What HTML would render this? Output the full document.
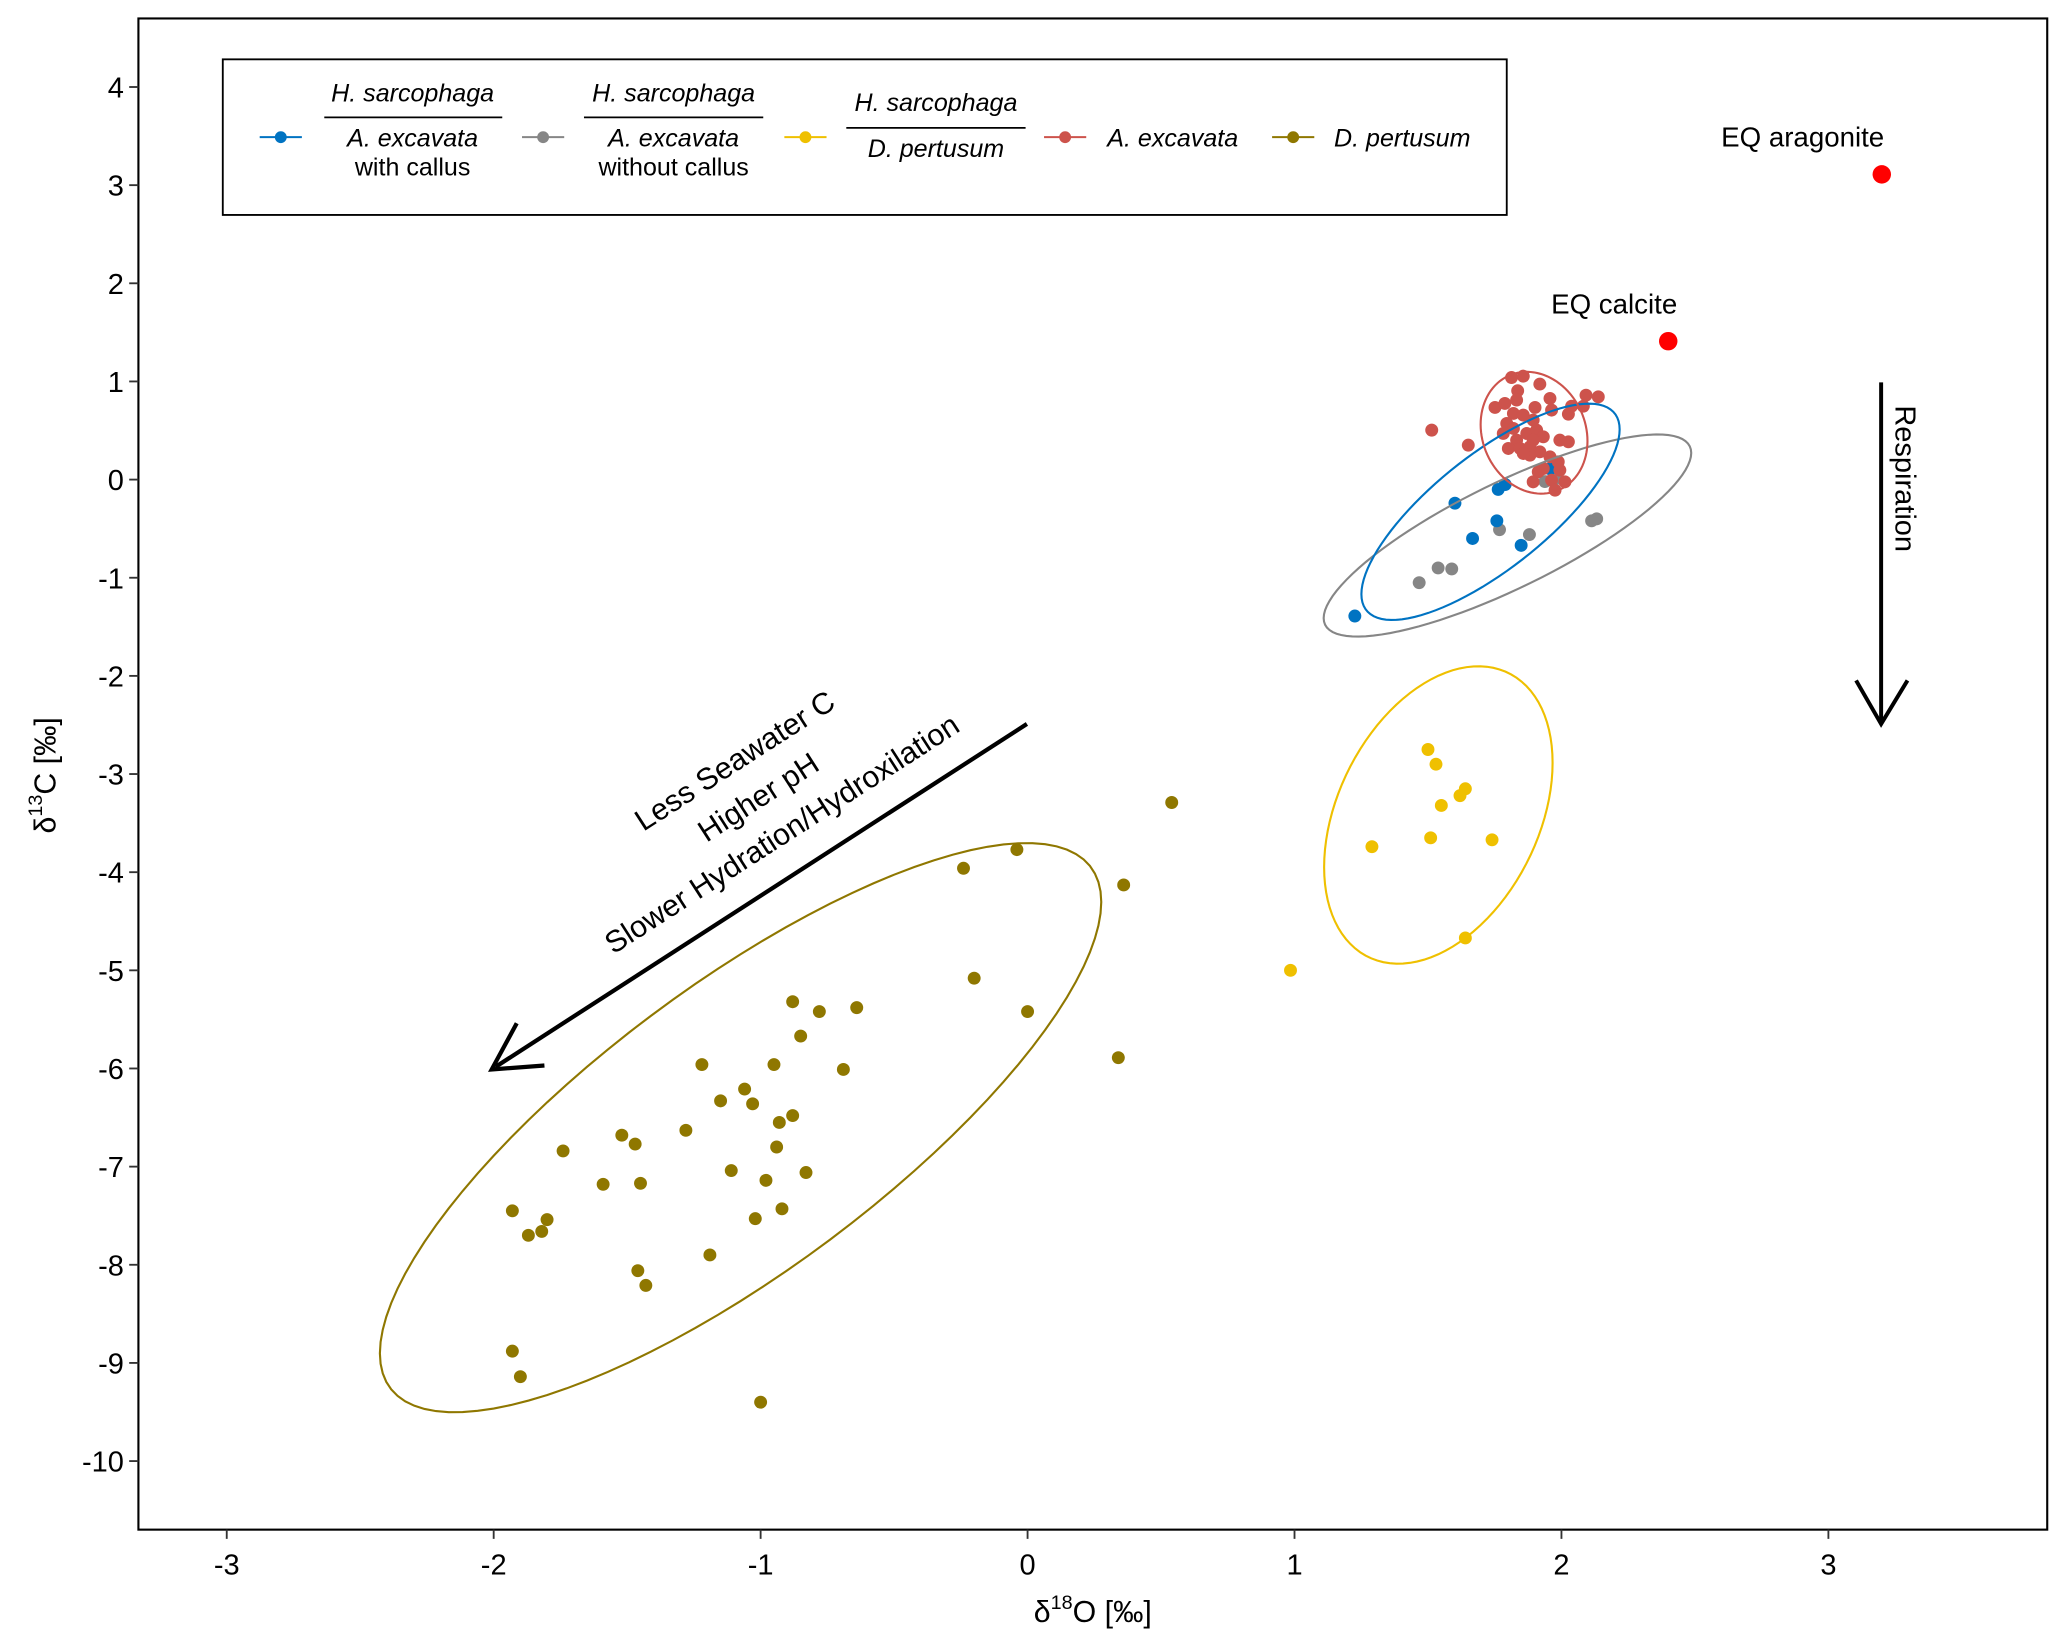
<!DOCTYPE html>
<html><head><meta charset="utf-8"><style>
html,body{margin:0;padding:0;background:#fff;}
svg{display:block;}
text{font-family:"Liberation Sans",Arial,sans-serif;fill:#000;}
</style></head><body>
<svg id="chart" xmlns="http://www.w3.org/2000/svg" width="2067" height="1647" viewBox="0 0 1568 1249" preserveAspectRatio="none">
<rect x="0" y="0" width="1568" height="1249" fill="#fff"/>
<g id="marks"></g>
<rect x="105" y="14" width="1448" height="1146" fill="none" stroke="#000" stroke-width="1.6"/>
<g id="axes"></g>
<text x="829" y="1230" font-size="23" text-anchor="middle">δ<tspan font-size="15" dy="-10">18</tspan><tspan dy="10">O [‰]</tspan></text>
<text transform="translate(42,588) rotate(-90)" font-size="23" text-anchor="middle">δ<tspan font-size="15" dy="-10">13</tspan><tspan dy="10">C [‰]</tspan></text>

<g>
<rect x="169" y="45" width="974" height="118" fill="#fff" stroke="#000" stroke-width="1.4"/>
<g>
<line x1="197" y1="104" x2="229" y2="104" stroke="#0073C2" stroke-width="1.5"/><circle cx="213" cy="104" r="4.5" fill="#0073C2"/>
<text x="313" y="77" font-size="19" font-style="italic" text-anchor="middle">H. sarcophaga</text>
<line x1="246" y1="89" x2="381" y2="89" stroke="#000" stroke-width="1.3"/>
<text x="313" y="111" font-size="19" font-style="italic" text-anchor="middle">A. excavata</text>
<text x="313" y="133" font-size="19" text-anchor="middle">with callus</text>
</g>
<g>
<line x1="396" y1="104" x2="428" y2="104" stroke="#868686" stroke-width="1.5"/><circle cx="412" cy="104" r="4.5" fill="#868686"/>
<text x="511" y="77" font-size="19" font-style="italic" text-anchor="middle">H. sarcophaga</text>
<line x1="443" y1="89" x2="579" y2="89" stroke="#000" stroke-width="1.3"/>
<text x="511" y="111" font-size="19" font-style="italic" text-anchor="middle">A. excavata</text>
<text x="511" y="133" font-size="19" text-anchor="middle">without callus</text>
</g>
<g>
<line x1="595" y1="104" x2="627" y2="104" stroke="#EFC000" stroke-width="1.5"/><circle cx="611" cy="104" r="4.5" fill="#EFC000"/>
<text x="710" y="84" font-size="19" font-style="italic" text-anchor="middle">H. sarcophaga</text>
<line x1="642" y1="97" x2="778" y2="97" stroke="#000" stroke-width="1.3"/>
<text x="710" y="119" font-size="19" font-style="italic" text-anchor="middle">D. pertusum</text>
</g>
<g>
<line x1="792" y1="104" x2="824" y2="104" stroke="#CD534C" stroke-width="1.5"/><circle cx="808" cy="104" r="4.5" fill="#CD534C"/>
<text x="840" y="111" font-size="19" font-style="italic">A. excavata</text>
</g>
<g>
<line x1="965" y1="104" x2="997" y2="104" stroke="#8F7700" stroke-width="1.5"/><circle cx="981" cy="104" r="4.5" fill="#8F7700"/>
<text x="1012" y="111" font-size="19" font-style="italic">D. pertusum</text>
</g>
</g>

<g>
<line x1="1427" y1="290" x2="1427" y2="549" stroke="#000" stroke-width="3"/>
<polyline points="1408,516 1427,549 1447,516" fill="none" stroke="#000" stroke-width="3"/>
<text transform="translate(1438,363) rotate(90)" font-size="22" text-anchor="middle">Respiration</text>
</g>
<g>
<line x1="779" y1="549" x2="376" y2="809" stroke="#000" stroke-width="3.2"/>
<polyline points="392,776 373,811 413,808" fill="none" stroke="#000" stroke-width="3.2"/>
<g transform="translate(580,612) rotate(-32.8)">
<text x="0" y="-34" font-size="23" text-anchor="middle">Less Seawater C</text>
<text x="0" y="-1" font-size="23" text-anchor="middle">Higher pH</text>
<text x="0" y="32" font-size="23" text-anchor="middle">Slower Hydration/Hydroxilation</text>
</g>
</g>
</svg>
<script>
// ---- data ----
const xTicks = [-3,-2,-1,0,1,2,3];
const yTicks = [4,3,2,1,0,-1,-2,-3,-4,-5,-6,-7,-8,-9,-10];
const dpX = [0.54,-0.24,-0.04,0.36,-0.20,0.00,0.34,-0.64,-0.78,-0.88,-0.85,-0.69,-0.95,-1.22,-1.06,-1.15,-1.03,-0.88,-0.93,-1.28,-1.52,-1.47,-1.74,-1.59,-1.45,-0.94,-0.83,-1.11,-0.98,-0.92,-1.02,-1.19,-1.93,-1.80,-1.82,-1.87,-1.46,-1.43,-1.93,-1.90,-1.00];
const dpY = [-3.29,-3.96,-3.77,-4.13,-5.08,-5.42,-5.89,-5.38,-5.42,-5.32,-5.67,-6.01,-5.96,-5.96,-6.21,-6.33,-6.36,-6.48,-6.55,-6.63,-6.68,-6.77,-6.84,-7.18,-7.17,-6.80,-7.06,-7.04,-7.14,-7.43,-7.53,-7.90,-7.45,-7.54,-7.66,-7.70,-8.06,-8.21,-8.88,-9.14,-9.40];
const hdX = [1.50,1.53,1.64,1.62,1.55,1.51,1.29,1.74,1.64,0.985];
const hdY = [-2.75,-2.90,-3.15,-3.22,-3.32,-3.65,-3.74,-3.67,-4.67,-5.00];
const wcX = [1.226,1.601,1.667,1.758,1.763,1.789,1.849,1.957];
const wcY = [-1.39,-0.24,-0.60,-0.42,-0.10,-0.05,-0.67,0.11];
const woX = [1.467,1.538,1.589,1.768,1.880,2.113,2.132,1.938,1.98];
const woY = [-1.05,-0.90,-0.91,-0.51,-0.56,-0.42,-0.40,-0.02,0.01];
const aeX = [1.514,1.651,1.813,1.857,1.919,1.836,1.957,1.751,1.788,1.832,1.901,1.963,2.038,2.092,2.138,2.082,2.026,1.820,1.857,1.894,1.795,1.820,1.870,1.907,1.932,1.832,1.801,1.845,1.882,1.919,1.994,2.026,1.882,1.957,1.988,1.994,1.913,1.894,1.963,2.013,1.976,1.932,1.857,1.782,1.894];
const aeY = [0.504,0.351,1.040,1.054,0.973,0.905,0.827,0.735,0.776,0.810,0.735,0.708,0.748,0.860,0.843,0.748,0.667,0.674,0.657,0.606,0.572,0.521,0.470,0.504,0.436,0.402,0.317,0.317,0.334,0.283,0.402,0.385,0.249,0.232,0.181,0.096,0.079,-0.023,-0.006,-0.023,-0.108,0.113,0.266,0.470,0.402];
const eqLabels = ["EQ calcite","EQ aragonite"];
const eqX = [2.40,3.20];
const eqY = [1.41,3.11];

// ---- scales ----
const X = v => 779.5 + v*202.5;
const Y = v => 363.7 - v*74.43;
const NS = "http://www.w3.org/2000/svg";
const marks = document.getElementById('marks');
const axes = document.getElementById('axes');
function mk(tag, attrs, parent){const e=document.createElementNS(NS,tag);for(const k in attrs)e.setAttribute(k,attrs[k]);parent.appendChild(e);return e;}

xTicks.forEach(t=>{
  const l=mk('line',{x1:X(t),x2:X(t),y1:1160,y2:1167,stroke:'#333','stroke-width':1.4},axes);
  
  
  const tx=mk('text',{x:X(t),y:1194,'font-size':22,'text-anchor':'middle'},axes);
  tx.textContent=String(t);
  
  
});
yTicks.forEach(t=>{
  const l=mk('line',{x1:98,x2:105,y1:Y(t),y2:Y(t),stroke:'#333','stroke-width':1.4},axes);
  
  
  const tx=mk('text',{x:94,y:Y(t)+8,'font-size':22,'text-anchor':'end'},axes);
  tx.textContent=String(t);
  
  
});

function ellipsePath(xs, ys, shrink){
  const n=xs.length, nu=5;
  let cx=xs.reduce((a,b)=>a+b)/n, cy=ys.reduce((a,b)=>a+b)/n;
  let sxx=0,syy=0,sxy=0;
  for(let i=0;i<n;i++){const dx=xs[i]-cx,dy=ys[i]-cy;sxx+=dx*dx;syy+=dy*dy;sxy+=dx*dy;}
  sxx/=n;syy/=n;sxy/=n;
  for(let it=0;it<200;it++){
    const det=sxx*syy-sxy*sxy;const ixx=syy/det,iyy=sxx/det,ixy=-sxy/det;
    const w=[];let sw=0,mx=0,my=0;
    for(let i=0;i<n;i++){const dx=xs[i]-cx,dy=ys[i]-cy;const d2=dx*dx*ixx+2*dx*dy*ixy+dy*dy*iyy;const wi=(nu+2)/(nu+d2);w.push(wi);sw+=wi;mx+=wi*xs[i];my+=wi*ys[i];}
    cx=mx/sw;cy=my/sw;
    let a=0,b=0,c=0;
    for(let i=0;i<n;i++){const dx=xs[i]-cx,dy=ys[i]-cy;a+=w[i]*dx*dx;b+=w[i]*dy*dy;c+=w[i]*dx*dy;}
    sxx=a/n;syy=b/n;sxy=c/n;
  }
  const df2=n-1;
  const F=(df2/2)*(Math.pow(0.05,-2/df2)-1);
  const r=Math.sqrt(2*F)*shrink;
  const l11=Math.sqrt(sxx), l21=sxy/l11, l22=Math.sqrt(Math.max(syy-l21*l21,1e-12));
  let d='';
  for(let k=0;k<=100;k++){const t=2*Math.PI*k/100;const u=Math.cos(t),v=Math.sin(t);
    const px=cx+r*l11*u, py=cy+r*(l21*u+l22*v);
    d+=(k?'L':'M')+X(px).toFixed(2)+','+Y(py).toFixed(2);}
  return d+'Z';
}
const groups=[
  {name:'d-pertusum',xs:dpX,ys:dpY,col:'#8F7700',s:1},
  {name:'hs-dp',xs:hdX,ys:hdY,col:'#EFC000',s:1},
  {name:'without-callus',xs:woX,ys:woY,col:'#868686',s:1.03},
  {name:'with-callus',xs:wcX,ys:wcY,col:'#0073C2',s:1},
  {name:'a-excavata',xs:aeX,ys:aeY,col:'#CD534C',s:0.88}
];
groups.forEach(g=>{
  g.xs.forEach((v,i)=>{
    const c=mk('circle',{cx:X(v),cy:Y(g.ys[i]),r:4.9,fill:g.col},marks);
    
    
  });
});
groups.forEach(g=>{
  const p=mk('path',{d:ellipsePath(g.xs,g.ys,g.s),fill:'none',stroke:g.col,'stroke-width':1.6},marks);
  
  
});
const eqLabelDx=[-41,-60];
eqX.forEach((v,i)=>{
  const c=mk('circle',{cx:X(v),cy:Y(eqY[i]),r:7,fill:'#FF0000'},marks);
  
  
  const t=mk('text',{x:X(v)+eqLabelDx[i],y:Y(eqY[i])-21,'font-size':21,'text-anchor':'middle'},marks);
  t.textContent=eqLabels[i];
  
  
});
</script>
</body></html>
